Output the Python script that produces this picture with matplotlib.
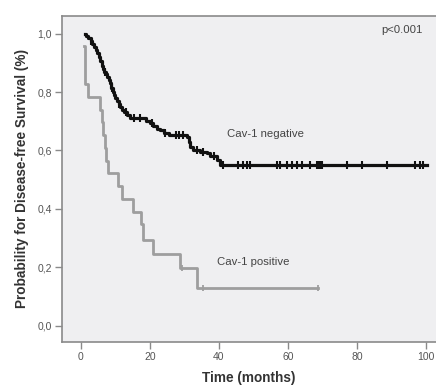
import numpy as np
from matplotlib import pyplot as plt

plt.rcParams["font.family"] = ["Liberation Sans", "DejaVu Sans"]

# Cav-1 negative: event times (months) and survival after each step
neg_time = [1.2, 1.5, 2.0, 2.8, 3.3, 3.8, 4.3, 4.8, 5.2, 5.6, 6.0, 6.4, 6.8,
            7.2, 7.6, 8.0, 8.4, 8.8, 9.2, 9.6, 10.0, 10.4, 10.9, 11.4, 12.0,
            12.6, 13.3, 14.2, 19.0, 20.0, 21.0, 22.0, 23.0, 24.0, 25.5, 30.7,
            31.2, 31.6, 32.5, 34.5, 36.5, 37.5, 39.4, 40.3, 100.3]
neg_surv = [1.0, 0.99, 0.985, 0.975, 0.965, 0.955, 0.945, 0.935, 0.92, 0.905,
            0.89, 0.88, 0.87, 0.86, 0.85, 0.84, 0.83, 0.815, 0.80, 0.79, 0.78,
            0.77, 0.76, 0.75, 0.74, 0.73, 0.72, 0.71, 0.70, 0.695, 0.685,
            0.675, 0.67, 0.66, 0.652, 0.645, 0.63, 0.612, 0.60, 0.595, 0.59,
            0.58, 0.567, 0.55, 0.55]
neg_cens = [3.0, 7.0, 9.0, 11.0, 13.0, 15.5, 17.0, 20.5, 24.5, 27.5, 28.5,
            29.5, 33.5, 35.5, 38.5, 41.2, 45.6, 47.1, 48.1, 49.0, 56.7, 57.7,
            59.6, 61.1, 62.5, 64.0, 66.4, 68.3, 68.7, 69.3, 69.8, 77.0, 81.4,
            88.6, 96.8, 98.3, 99.2]

# Cav-1 positive
pos_time = [1.0, 1.1, 2.0, 5.5, 6.0, 6.5, 7.0, 7.3, 7.8, 10.7, 12.0, 15.0,
            17.5, 18.0, 21.0, 28.7, 33.6, 68.7]
pos_surv = [0.957, 0.826, 0.783, 0.739, 0.696, 0.652, 0.609, 0.565, 0.522,
            0.478, 0.435, 0.391, 0.348, 0.294, 0.246, 0.197, 0.131, 0.131]
pos_cens = [29.3, 35.4, 68.7]


def value_at(times, surv, t):
    idx = np.searchsorted(times, t, side="right") - 1
    return np.array(surv)[idx]


fig = plt.figure(figsize=(4.36, 3.88), dpi=100)
ax = fig.add_axes([0.142, 0.1186, 0.859, 0.8402])
ax.set_facecolor("#efeff1")

ax.step(pos_time, pos_surv, where="post", color="#9e9e9e", lw=2.0)
ax.plot(pos_cens, value_at(pos_time, pos_surv, pos_cens), ls="none",
        marker="|", ms=4, mew=1.3, color="#9e9e9e")

ax.step(neg_time, neg_surv, where="post", color="#111111", lw=2.3)
ax.plot(neg_cens, value_at(neg_time, neg_surv, neg_cens), ls="none",
        marker="|", ms=5.5, mew=1.5, color="#111111")

ax.set_xlim(-5.5, 103)
ax.set_ylim(-0.055, 1.06)
ax.set_xticks([0, 20, 40, 60, 80, 100])
ax.set_yticks([0.0, 0.2, 0.4, 0.6, 0.8, 1.0])
ax.set_yticklabels(["0,0", "0,2", "0,4", "0,6", "0,8", "1,0"])

for side in ["left", "top", "bottom"]:
    ax.spines[side].set_color("#8a8a8a")
    ax.spines[side].set_linewidth(1.2)
ax.spines["right"].set_visible(False)
ax.tick_params(length=5, width=1.0, color="#8a8a8a", labelsize=7.5,
               labelcolor="#555555", pad=2)

ax.set_xlabel("Time (months)", fontsize=9.8, fontweight="bold",
              color="#333333", labelpad=7)
ax.set_ylabel("Probability for Disease-free Survival (%)", fontsize=9.8,
              fontweight="bold", color="#333333", labelpad=6)

ax.text(99.1, 1.012, "p<0.001", fontsize=8.2, color="#444444",
        ha="right", va="center")
ax.text(42.3, 0.656, "Cav-1 negative", fontsize=8.2, color="#444444",
        ha="left", va="center")
ax.text(39.4, 0.219, "Cav-1 positive", fontsize=8.2, color="#444444",
        ha="left", va="center")

fig.savefig("out.png", dpi=100)
plt.close()
